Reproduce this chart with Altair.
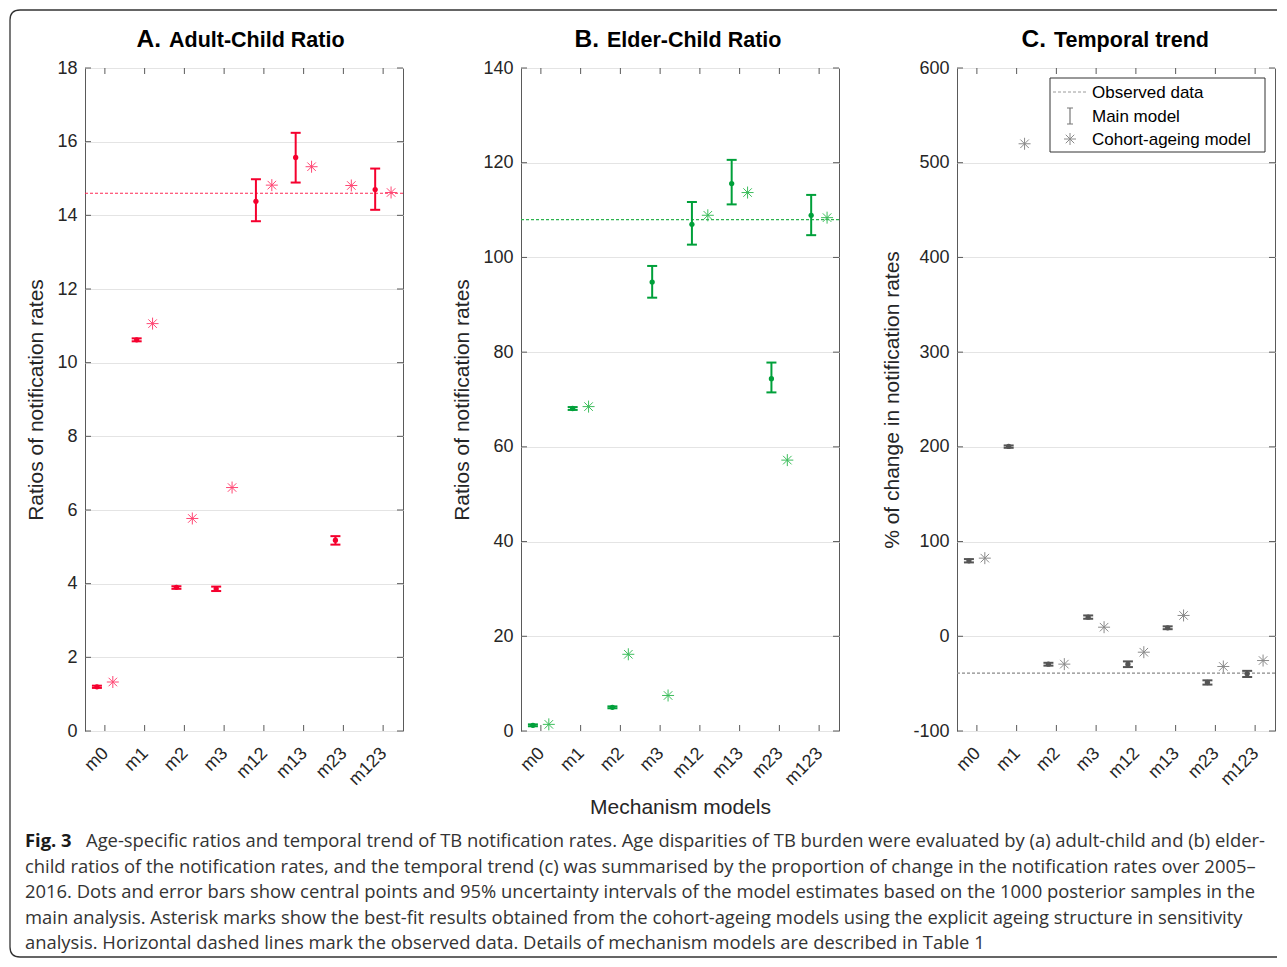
import json
import altair as alt
import pandas as pd

# ---------------- data ----------------
models = ["m0", "m1", "m2", "m3", "m12", "m13", "m23", "m123"]

adult_mid = [1.20, 10.62, 3.90, 3.86, 14.38, 15.57, 5.18, 14.70]
adult_lo = [1.17, 10.58, 3.86, 3.80, 13.84, 14.89, 5.06, 14.15]
adult_hi = [1.23, 10.66, 3.93, 3.92, 14.98, 16.24, 5.29, 15.27]
adult_cohort = [1.33, 11.06, 5.77, 6.61, 14.82, 15.32, 14.81, 14.62]
adult_obs = 14.6

elder_mid = [1.2, 68.1, 5.0, 94.8, 107.0, 115.6, 74.4, 108.9]
elder_lo = [1.0, 67.8, 4.8, 91.5, 102.7, 111.2, 71.5, 104.7]
elder_hi = [1.4, 68.4, 5.2, 98.2, 111.7, 120.6, 77.8, 113.2]
elder_cohort = [1.4, 68.5, 16.2, 7.5, 108.9, 113.7, 57.2, 108.4]
elder_obs = 108.0

trend_mid = [79.7, 200.4, -29.4, 20.2, -29.4, 8.9, -48.8, -39.6]
trend_lo = [78.0, 199.0, -31.0, 18.5, -32.5, 7.5, -51.0, -43.0]
trend_hi = [81.5, 201.5, -28.0, 22.0, -26.5, 10.5, -46.5, -36.5]
trend_cohort = [82.5, 520.0, -29.4, 9.6, -16.8, 22.0, -31.9, -25.6]
trend_obs = -39.0

legend_labels = ["Observed data", "Main model", "Cohort-ageing model"]

caption_bold = "Fig. 3"
caption_first = ("Age-specific ratios and temporal trend of TB notification rates. Age disparities of "
                 "TB burden were evaluated by (a) adult-child and (b) elder-")
caption_rest = [
    "child ratios of the notification rates, and the temporal trend (c) was summarised by the proportion "
    "of change in the notification rates over 2005–",
    "2016. Dots and error bars show central points and 95% uncertainty intervals of the model estimates "
    "based on the 1000 posterior samples in the",
    "main analysis. Asterisk marks show the best-fit results obtained from the cohort-ageing models using "
    "the explicit ageing structure in sensitivity",
    "analysis. Horizontal dashed lines mark the observed data. Details of mechanism models are described in Table 1",
]

# ---------------- style ----------------
FONT = "Liberation Sans"
CAP_FONT = "Open Sans"
CAP_SIZE = 18.4
W, H = 318, 663
BOX = "#5a5a5a"
GRID = "#e4e4e4"
TXT = "#262626"

ASTER = "M-1,0L1,0M0,-1L0,1M-0.71,-0.71L0.71,0.71M-0.71,0.71L0.71,-0.71"
IBAR = "M-3,-8L3,-8M0,-8L0,8M-3,8L3,8"   # drawn with size=4 -> 1 unit = 1 px

one = pd.DataFrame({"k": [0]})


def text_layer(txt, x, y, size, weight="normal", align="left", font=FONT,
               color="black", line_height=None):
    kw = dict(font=font, fontSize=size, fontWeight=weight, align=align,
              baseline="alphabetic", color=color)
    if line_height:
        kw["lineHeight"] = line_height
    return alt.Chart(one).mark_text(**kw).encode(
        x=alt.value(x), y=alt.value(y), text=alt.value(txt))


def make_panel(letter, title, split, mid, lo, hi, cohort, obs, ydom, ystep,
               c_main, c_ast, c_obs, ytitle, xtitle=None, extra=None):
    pos = list(range(1, len(models) + 1))
    df = pd.DataFrame({"model": models, "pos": pos, "mid": mid,
                       "lo": lo, "hi": hi, "cohort": cohort})
    yticks = list(range(ydom[0], ydom[1] + 1, ystep))

    xs = alt.Scale(domain=[0.5, len(models) + 0.5], nice=False, zero=False)
    ys = alt.Scale(domain=list(ydom), nice=False, zero=False)

    xa_kw = dict(values=pos, labelExpr=f"{json.dumps(models)}[datum.value - 1]",
                 labelAngle=-45, labelAlign="right", labelBaseline="top",
                 labelPadding=13, labelOffset=-6, labelFont=FONT, labelFontSize=18,
                 labelColor=TXT, labelOverlap=False, labelFlush=False,
                 ticks=False, tickSize=0, domain=False, grid=False)
    if xtitle:
        xa_kw.update(title=xtitle, titleFont=FONT, titleFontSize=21,
                     titleFontWeight="normal", titleColor=TXT, titlePadding=8)
    else:
        xa_kw.update(title=None)
    xa = alt.Axis(**xa_kw)
    ya = alt.Axis(values=yticks, labelExpr="'' + datum.value", labelFont=FONT,
                  labelFontSize=18, labelColor=TXT, labelPadding=8, ticks=False,
                  tickSize=0, domain=False, grid=True, gridColor=GRID, gridWidth=1,
                  title=ytitle, titleFont=FONT, titleFontSize=21,
                  titleFontWeight="normal", titleColor=TXT, titlePadding=10)

    def X(f):
        return alt.X(f"{f}:Q", scale=xs, axis=xa)

    def Y(f):
        return alt.Y(f"{f}:Q", scale=ys, axis=ya)

    base = alt.Chart(df).transform_calculate(xm="datum.pos - 0.2", xc="datum.pos + 0.2")

    obs_rule = alt.Chart(pd.DataFrame({"obs": [obs]})).mark_rule(
        color=c_obs, strokeDash=[3, 2], strokeWidth=1.2, opacity=1).encode(y=Y("obs"))
    err = base.mark_rule(color=c_main, strokeWidth=2, opacity=1).encode(
        x=X("xm"), y=Y("lo"), y2="hi:Q")
    cap_lo = base.mark_tick(color=c_main, orient="horizontal", size=10,
                            thickness=2, opacity=1).encode(x=X("xm"), y=Y("lo"))
    cap_hi = base.mark_tick(color=c_main, orient="horizontal", size=10,
                            thickness=2, opacity=1).encode(x=X("xm"), y=Y("hi"))
    dot = base.mark_circle(color=c_main, size=28, opacity=1).encode(x=X("xm"), y=Y("mid"))
    ast = base.mark_point(shape=ASTER, size=144, filled=False, color=c_ast,
                          strokeWidth=1, opacity=1).encode(x=X("xc"), y=Y("cohort"))

    xt = alt.Chart(pd.DataFrame({"pos": pos}))
    t_bot = xt.mark_rule(color=BOX, strokeWidth=1).encode(
        x=X("pos"), y=alt.value(H), y2=alt.value(H - 6))
    t_top = xt.mark_rule(color=BOX, strokeWidth=1).encode(
        x=X("pos"), y=alt.value(0), y2=alt.value(6))
    yt = alt.Chart(pd.DataFrame({"v": yticks}))
    t_right = yt.mark_rule(color=BOX, strokeWidth=1).encode(
        y=Y("v"), x=alt.value(W - 6), x2=alt.value(W))
    t_left = yt.mark_rule(color=BOX, strokeWidth=1).encode(
        y=Y("v"), x=alt.value(0), x2=alt.value(6))

    # panel title: big letter + bold title
    t_letter = text_layer(letter, split - 8, -21, 24.5, weight="bold", align="right")
    t_title = text_layer(title, split, -21, 21.5, weight="bold", align="left")

    layers = [t_bot, t_top, t_right, t_left, obs_rule, err, cap_lo, cap_hi, dot, ast,
              t_letter, t_title]
    if extra:
        layers += extra
    return alt.layer(*layers).properties(
        width=W, height=H,
        view=alt.ViewBackground(stroke=BOX, strokeWidth=1),
    )


# frame around the figure and the caption (drawn in panel A's coordinates)
left, top, bot, right = -75, -58, 889, 1192
FRAME = (f"M{right},{top}L{left + 10},{top}Q{left},{top} {left},{top + 10}"
         f"L{left},{bot - 10}Q{left},{bot} {left + 10},{bot}L{right},{bot}")
frame = alt.Chart(one).mark_point(shape=FRAME, size=4, filled=False, color="#333",
                                  strokeWidth=1.3, strokeJoin="round", opacity=1).encode(
    x=alt.value(0), y=alt.value(0))
cap_y = 779
cap_lh = 25.5
cap1b = text_layer(caption_bold, -60, cap_y, CAP_SIZE, weight="bold", font=CAP_FONT,
                   color="#1a1a1a")
cap1 = text_layer(caption_first, 1, cap_y, CAP_SIZE, font=CAP_FONT, color="#333")
cap2 = text_layer(caption_rest, -60, cap_y + cap_lh, CAP_SIZE, font=CAP_FONT, color="#333",
                  line_height=cap_lh)

# legend for panel C (drawn in panel C's coordinates)
leg_box = alt.Chart(one).mark_rect(fill="white", stroke="#333", strokeWidth=1).encode(
    x=alt.value(93), x2=alt.value(308), y=alt.value(10), y2=alt.value(84))
leg_dash = alt.Chart(one).mark_rule(color="#9a9a9a", strokeDash=[3, 2], strokeWidth=1).encode(
    x=alt.value(96), x2=alt.value(130), y=alt.value(24))
leg_ibar = alt.Chart(one).mark_point(shape=IBAR, size=4, filled=False, color="#777",
                                     strokeWidth=1.2, opacity=1).encode(
    x=alt.value(113), y=alt.value(48))
leg_ast = alt.Chart(one).mark_point(shape=ASTER, size=144, filled=False, color="#8a8a8a",
                                    strokeWidth=1, opacity=1).encode(
    x=alt.value(113), y=alt.value(71))
leg_text = text_layer(legend_labels, 135, 30, 17, color="black", line_height=23.5)

pA = make_panel("A.", "Adult-Child Ratio", 84, adult_mid, adult_lo, adult_hi, adult_cohort,
                adult_obs, (0, 18), 2, "#f5002e", "#ff4774", "#ff2a55",
                "Ratios of notification rates", extra=[frame, cap1b, cap1, cap2])
pB = make_panel("B.", "Elder-Child Ratio", 86, elder_mid, elder_lo, elder_hi, elder_cohort,
                elder_obs, (0, 140), 20, "#00a03a", "#3dbd5c", "#2db34f",
                "Ratios of notification rates", xtitle="Mechanism models")
pC = make_panel("C.", "Temporal trend", 97, trend_mid, trend_lo, trend_hi, trend_cohort,
                trend_obs, (-100, 600), 100, "#555555", "#8a8a8a", "#8a8a8a",
                "% of change in notification rates",
                extra=[leg_box, leg_dash, leg_ibar, leg_ast, leg_text])

chart = alt.hconcat(pA, pB, pC, spacing=118, bounds="flush").properties(
    padding=0, background="white"
).configure_view(stroke="transparent")

chart.save("out.html", embed_options={"renderer": "svg", "actions": False})
